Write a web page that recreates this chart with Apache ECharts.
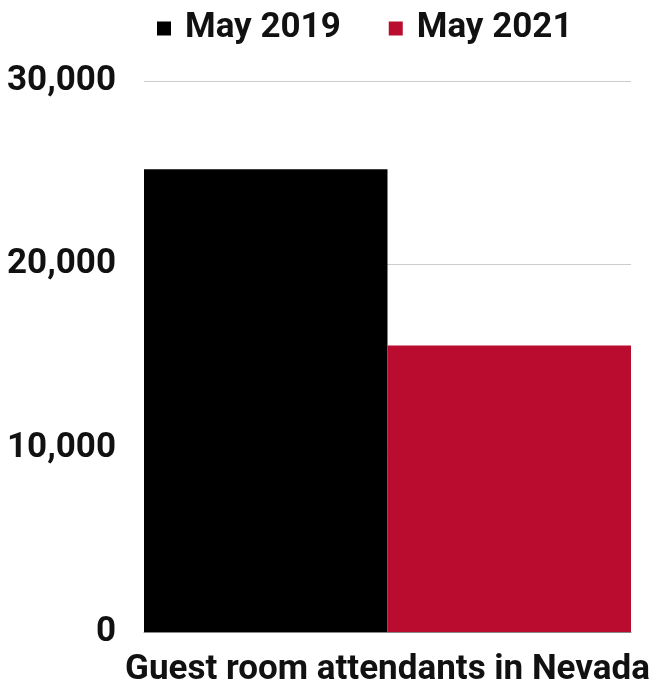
<!DOCTYPE html>
<html>
<head>
<meta charset="utf-8">
<script src="https://cdn.jsdelivr.net/npm/echarts@6/dist/echarts.min.js"></script>
<style>
  html, body { margin: 0; padding: 0; background: #fff; }
  #chart { width: 654px; height: 684px; }
</style>
</head>
<body>
<div id="chart"></div>
<script>
const categories = ['Guest room attendants in Nevada'];
const seriesNames = ['May 2019', 'May 2021'];
const may2019 = [25200];
const may2021 = [15600];
const yTicks = [0, 10000, 20000, 30000];

const chart = echarts.init(document.getElementById('chart'));
const font = 'Roboto, sans-serif';

chart.setOption({
  animation: false,
  legend: {
    data: seriesNames,
    top: 11,
    left: 157,
    padding: 0,
    itemWidth: 14,
    itemHeight: 14,
    itemGap: 48,
    icon: 'rect',
    textStyle: { fontFamily: font, fontWeight: 'bold', fontSize: 35, color: '#111', padding: [0, 0, 0, 9] }
  },
  grid: { left: 144, right: 23, top: 81, bottom: 52, containLabel: false, outerBoundsMode: 'none' },
  xAxis: {
    type: 'category',
    data: categories,
    name: categories[0],
    nameLocation: 'middle',
    nameGap: 21,
    nameTextStyle: { fontFamily: font, fontWeight: 'bold', fontSize: 35, color: '#111' },
    axisLabel: { show: false },
    axisTick: { show: false },
    axisLine: { lineStyle: { color: '#888', width: 1 } }
  },
  yAxis: {
    type: 'value',
    min: yTicks[0],
    max: yTicks[yTicks.length - 1],
    interval: 10000,
    axisLabel: {
      margin: 28,
      fontFamily: font, fontWeight: 'bold', fontSize: 35, color: '#111',
      formatter: v => v.toLocaleString('en-US')
    },
    axisLine: { show: false },
    axisTick: { show: false },
    splitLine: { lineStyle: { color: '#ccc', width: 1 } }
  },
  series: [
    { name: seriesNames[0], type: 'bar', data: may2019, barGap: '0%', barCategoryGap: '0%', itemStyle: { color: '#000000' } },
    { name: seriesNames[1], type: 'bar', data: may2021, barGap: '0%', barCategoryGap: '0%', itemStyle: { color: '#ba0c2f' } }
  ]
});
</script>
</body>
</html>
